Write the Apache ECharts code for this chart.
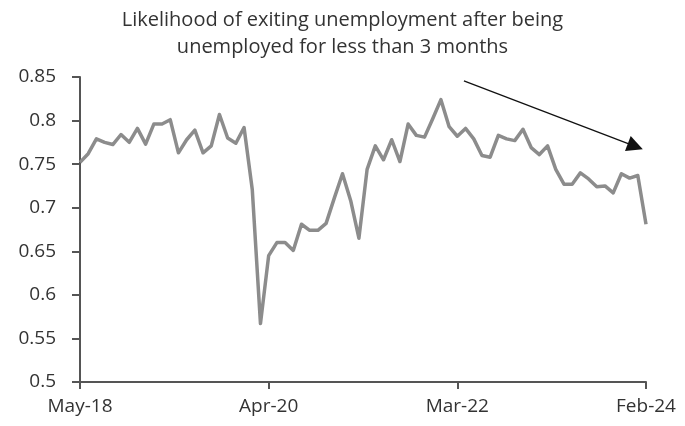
<!DOCTYPE html>
<html>
<head>
<meta charset="utf-8">
<style>
  html, body { margin: 0; padding: 0; background: #fff; }
  #chart { width: 685px; height: 426px; }
</style>
<script src="https://cdn.jsdelivr.net/npm/echarts@6/dist/echarts.min.js"></script>
</head>
<body>
<div id="chart"></div>
<script>
// Monthly series, May 2018 through February 2024
const startYear = 2018;
const startMonth = 4; // May (0-based)
const monthNames = ['Jan','Feb','Mar','Apr','May','Jun','Jul','Aug','Sep','Oct','Nov','Dec'];

const exitRate = [
  0.752, 0.762, 0.779, 0.775, 0.7725, 0.784, 0.775, 0.791, 0.773, 0.796,
  0.796, 0.801, 0.763, 0.778, 0.789, 0.763, 0.771, 0.807, 0.780, 0.774,
  0.792, 0.721, 0.567, 0.645, 0.660, 0.660, 0.651, 0.681, 0.674, 0.674,
  0.682, 0.711, 0.739, 0.708, 0.665, 0.744, 0.771, 0.755, 0.778, 0.753,
  0.796, 0.783, 0.781, 0.802, 0.824, 0.793, 0.782, 0.791, 0.779, 0.760,
  0.758, 0.783, 0.779, 0.777, 0.790, 0.769, 0.761, 0.771, 0.744, 0.727,
  0.727, 0.740, 0.733, 0.724, 0.725, 0.717, 0.739, 0.734, 0.737, 0.681
];

// Month labels for every point, e.g. "May-18"
const months = exitRate.map(function (_, i) {
  const m = startMonth + i;
  const y = startYear + Math.floor(m / 12);
  return monthNames[m % 12] + '-' + String(y).slice(2);
});

// Trend arrow: [month index, value] for tail and head
const trendArrow = [[46.8, 0.8455], [67.7, 0.7705]];

const yTicks = { min: 0.5, max: 0.85, step: 0.05 };
const xTickStep = 23;

const titleText = 'Likelihood of exiting unemployment after being\nunemployed for less than 3 months';

const chart = echarts.init(document.getElementById('chart'), null, { renderer: 'canvas' });

const axisColor = '#555555';
const textColor = '#333333';
const fontFamily = '"Open Sans", Lato, sans-serif';

chart.setOption({
  animation: false,
  backgroundColor: '#ffffff',
  title: {
    text: titleText,
    left: 'center',
    top: 2,
    textStyle: {
      fontFamily: fontFamily,
      fontSize: 20,
      fontWeight: 'normal',
      color: textColor,
      lineHeight: 27
    }
  },
  grid: { left: 80, right: 39, top: 77, bottom: 44, containLabel: false },
  xAxis: {
    type: 'value',
    min: 0,
    max: exitRate.length - 1,
    interval: xTickStep,
    splitLine: { show: false },
    axisLine: { show: true, lineStyle: { color: axisColor, width: 2 } },
    axisTick: { show: true, inside: false, length: 7, lineStyle: { color: axisColor, width: 2 } },
    axisLabel: {
      margin: 15,
      fontFamily: fontFamily,
      fontSize: 19,
      color: textColor,
      formatter: function (v) { return months[Math.round(v)] || ''; }
    }
  },
  yAxis: {
    type: 'value',
    min: yTicks.min,
    max: yTicks.max,
    interval: yTicks.step,
    splitLine: { show: false },
    axisLine: { show: true, lineStyle: { color: axisColor, width: 2 } },
    axisTick: { show: true, inside: false, length: 8, lineStyle: { color: axisColor, width: 2 } },
    axisLabel: {
      margin: 24,
      fontFamily: fontFamily,
      fontSize: 19,
      color: textColor,
      formatter: function (v) { return String(Math.round(v * 100) / 100); }
    }
  },
  series: [{
    type: 'line',
    data: exitRate.map(function (v, i) { return [i, v]; }),
    symbol: 'none',
    lineStyle: { color: '#8c8c8c', width: 3.5, join: 'round' },
    markLine: {
      silent: true,
      animation: false,
      symbol: ['none', 'triangle'],
      symbolSize: 16,
      label: { show: false },
      lineStyle: { color: '#111111', width: 1.3, type: 'solid' },
      data: [[
        { coord: trendArrow[0] },
        { coord: trendArrow[1] }
      ]]
    }
  }]
});
</script>
</body>
</html>
